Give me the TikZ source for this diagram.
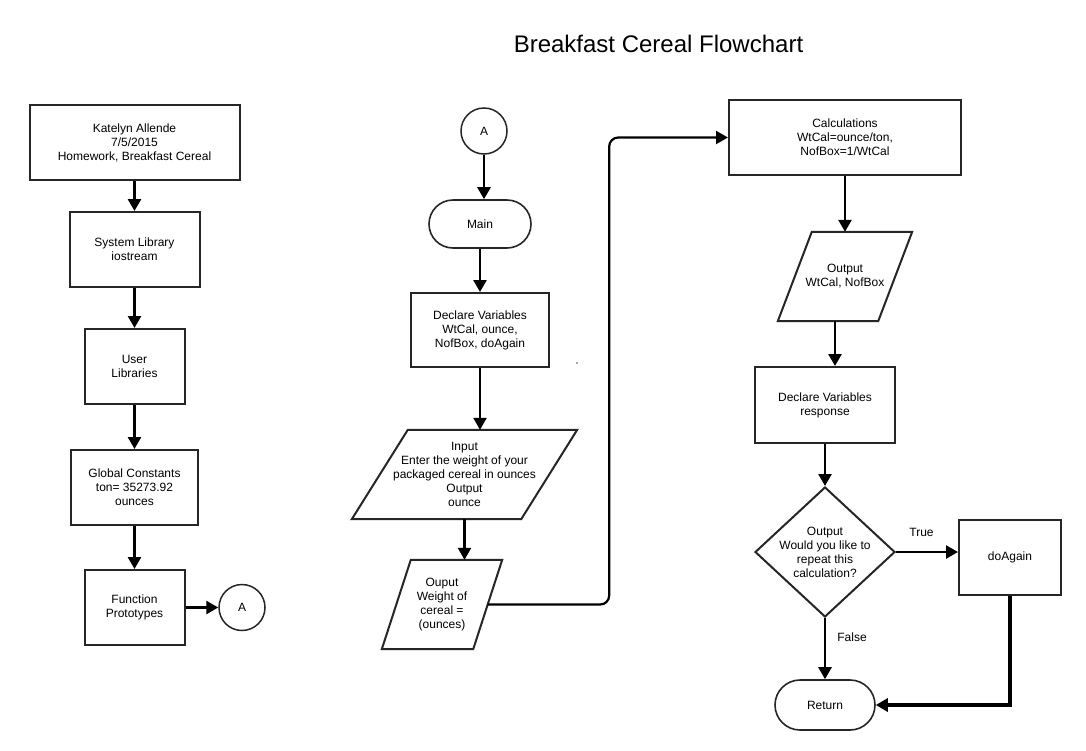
\documentclass[tikz,border=0pt]{standalone}
\usepackage{fontspec}
\setmainfont{Liberation Sans}
\usetikzlibrary{shapes.geometric,arrows.meta,calc}
\definecolor{bd}{HTML}{262626}
\begin{document}
\begin{tikzpicture}[x=1pt,y=-1pt,
  txt/.style={font=\fontsize{12}{14}\selectfont, align=center, text=black},
  boxnode/.style={txt, draw=bd, line width=2pt, rectangle, inner sep=0pt},
  term/.style={txt, draw=bd, line width=1.6pt, rectangle, rounded corners=24pt, inner sep=0pt},
  conn/.style={txt, draw=bd, line width=1.5pt, circle, inner sep=0pt, minimum size=46pt},
  pbox/.style={txt, inner sep=0pt},
  pline/.style={draw=bd, line width=2pt, line join=miter},
  arr/.style={draw=black, line width=2.6pt, -{Triangle[width=13pt,length=12pt]}},
  lbl/.style={txt}
]
\useasboundingbox (0,0) rectangle (1086,750);
\fill[white] (0,0) rectangle (1086,750);

% title
\node[txt, font=\fontsize{24}{28}\selectfont, anchor=base] (title) at (658.5,52) {Breakfast Cereal Flowchart};

% left column
\node[boxnode, minimum width=210pt, minimum height=75pt] (n1) at (134.5,142.5) {Katelyn Allende\\7/5/2015\\Homework, Breakfast Cereal};
\node[boxnode, minimum width=130pt, minimum height=75pt] (n2) at (134.5,249.5) {System Library\\iostream};
\node[boxnode, minimum width=100pt, minimum height=75pt] (n3) at (134.5,366.5) {User\\Libraries};
\node[boxnode, minimum width=127pt, minimum height=75pt] (n4) at (134.5,487.5) {Global Constants\\ton= 35273.92\\ounces};
\node[boxnode, minimum width=100pt, minimum height=75pt] (n5) at (134.5,607.5) {Function\\Prototypes};
\node[conn] (a1) at (242,607.5) {A};

\draw[arr] (n1.south) -- (n2.north);
\draw[arr] (n2.south) -- (n3.north);
\draw[arr] (n3.south) -- (n4.north);
\draw[arr] (n4.south) -- (n5.north);
\draw[arr] (n5.east) -- (a1.west);

% middle column
\node[conn] (a2) at (484,131) {A};
\node[term, minimum width=102pt, minimum height=48pt] (main) at (480,224) {Main};
\node[boxnode, minimum width=138pt, minimum height=74pt] (decl) at (480,330) {Declare Variables\\WtCal, ounce,\\NofBox, doAgain};
\node[pbox, minimum width=225pt, minimum height=89pt] (inp) at (464.5,474.5) {Input\\Enter the weight of your\\packaged cereal in ounces\\Output\\ounce};
\draw[pline] ($(inp.north west)+(56,0)$) -- (inp.north east) -- ($(inp.south east)+(-56,0)$) -- (inp.south west) -- cycle;
\node[pbox, minimum width=120pt, minimum height=89pt] (outp) at (442,604.5) {Ouput\\Weight of\\cereal =\\(ounces)};
\draw[pline] ($(outp.north west)+(29,0)$) -- (outp.north east) -- ($(outp.south east)+(-29,0)$) -- (outp.south west) -- cycle;
\coordinate (outR) at ($(outp.north east)!0.5!(outp.south east)+(-14.5,0)$);

\fill[black!70] (577,363) circle (0.9pt);

\draw[arr] (a2.south) -- (a2.south |- main.north);
\draw[arr] (main.south) -- (decl.north);
\draw[arr] (decl.south) -- (decl.south |- inp.north);
\draw[arr] (inp.south) -- (inp.south |- outp.north);

% right column
\node[boxnode, minimum width=232pt, minimum height=75pt] (calc) at (845,137.5) {Calculations\\WtCal=ounce/ton,\\NofBox=1/WtCal};
\node[pbox, minimum width=134pt, minimum height=89pt] (out2) at (845,276.5) {Output\\WtCal, NofBox};
\draw[pline] ($(out2.north west)+(34,0)$) -- (out2.north east) -- ($(out2.south east)+(-34,0)$) -- (out2.south west) -- cycle;
\node[boxnode, minimum width=140pt, minimum height=76pt] (resp) at (825,405) {Declare Variables\\response};
\node[diamond, draw=bd, line width=2pt, minimum width=140pt, minimum height=130pt, inner sep=0pt] (dia) at (825,552) {};
\node[txt] (dtext) at (dia.center) {Output\\Would you like to\\repeat this\\calculation?};
\node[boxnode, minimum width=102pt, minimum height=75pt] (again) at (1010,557.5) {doAgain};
\node[term, minimum width=100pt, minimum height=50pt, rounded corners=25pt] (ret) at (825,705) {Return};

\draw[arr, line width=2.2pt, rounded corners=9pt] (outR) -- ++(121.5,0) |- (calc.west);
\draw[arr] (calc.south) -- (calc.south |- out2.north);
\draw[arr] ([xshift=-10pt]out2.south) -- ([xshift=-10pt]out2.south |- resp.north);
\draw[arr] (resp.south) -- (dia.north);
\draw[arr] (dia.east) -- (dia.east -| again.west);
\draw[arr] (dia.south) -- (ret.north);
\draw[arr, line width=3.6pt, line join=miter] (again.south) |- (ret.east);
\node[lbl] (ltrue) at (921.5,532) {True};
\node[lbl] (lfalse) at (852,637) {False};
\end{tikzpicture}
\end{document}
